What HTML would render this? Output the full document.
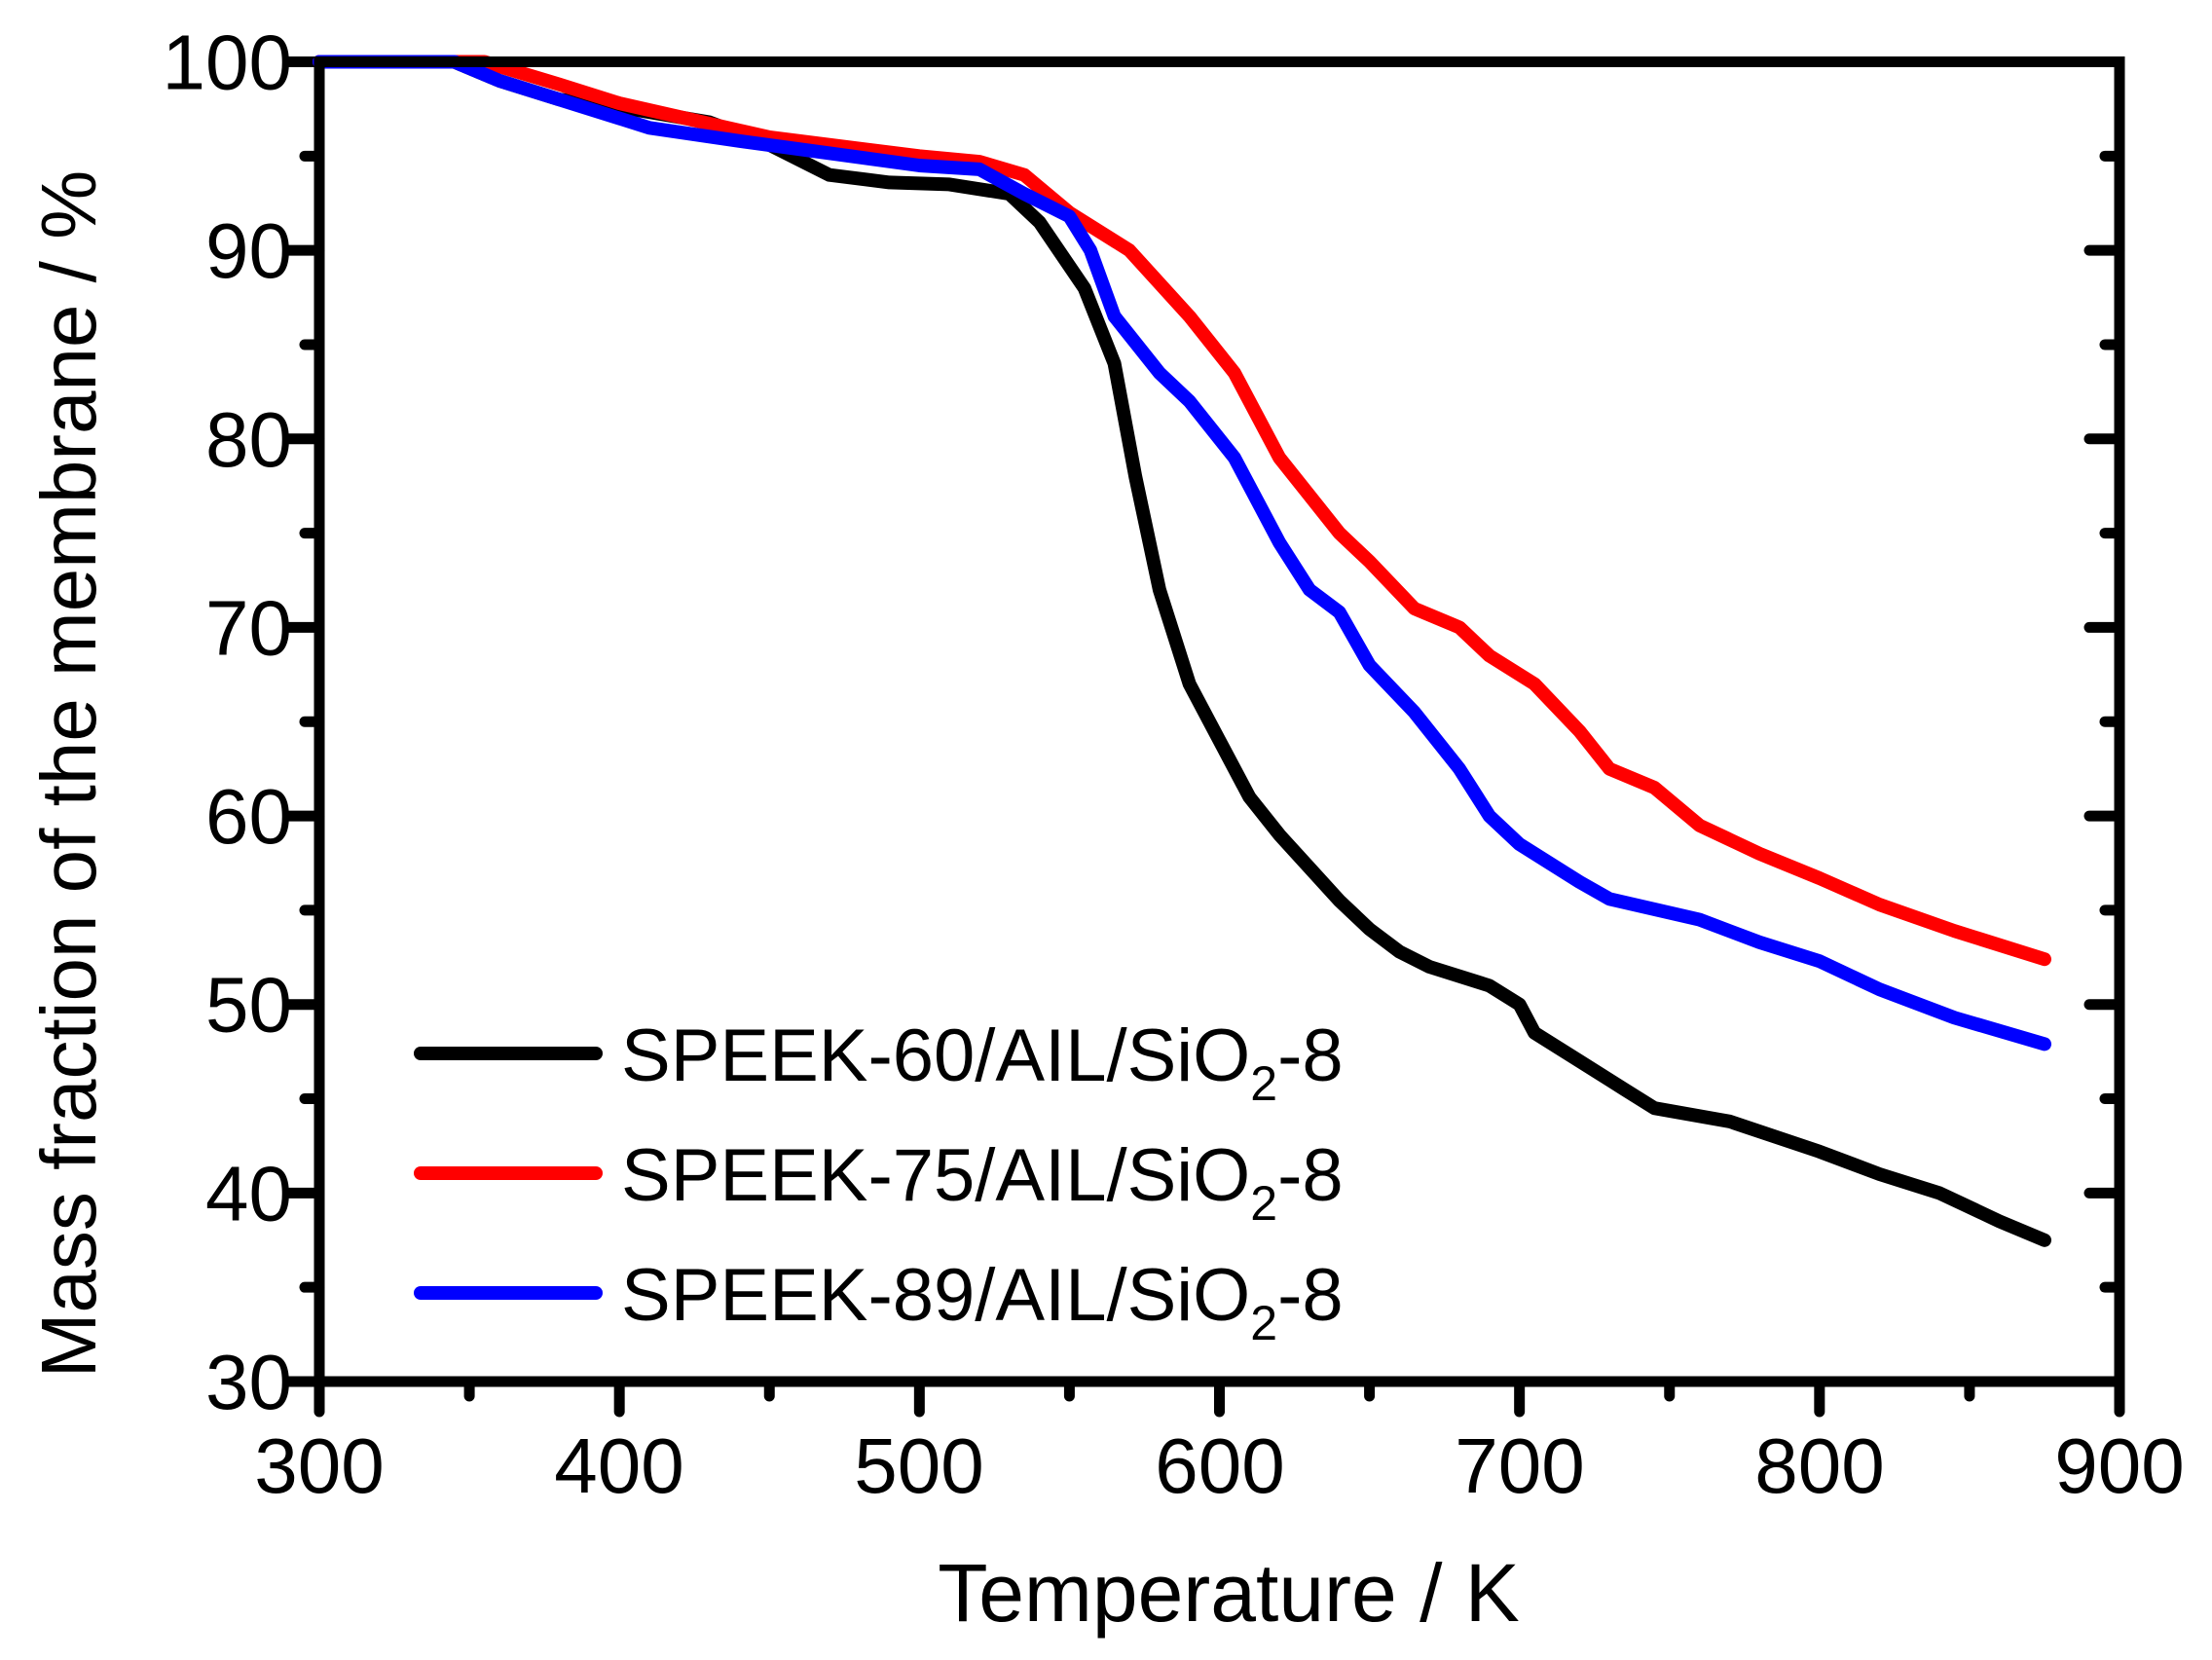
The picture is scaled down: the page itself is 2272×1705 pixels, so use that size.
<!DOCTYPE html>
<html><head><meta charset="utf-8"><style>
html,body{margin:0;padding:0;background:#fff;}
svg{display:block;}
text{font-family:"Liberation Sans",Arial,sans-serif;fill:#000;}
</style></head><body>
<svg id="s" width="2272" height="1705" viewBox="0 0 2272 1705" xmlns="http://www.w3.org/2000/svg">
<g id="ticks" stroke="#000" stroke-width="11" stroke-linecap="round"></g>
<g id="curves" fill="none" stroke-width="14" stroke-linejoin="round" stroke-linecap="round"></g>
<rect x="328" y="63.5" width="1849" height="1355.5" fill="none" stroke="#000" stroke-width="11"/>
<g font-size="80" text-anchor="middle">
<text x="328" y="1533">300</text><text x="636" y="1533">400</text><text x="944" y="1533">500</text>
<text x="1253" y="1533">600</text><text x="1561" y="1533">700</text><text x="1869" y="1533">800</text><text x="2177" y="1533">900</text>
</g>
<g font-size="80" text-anchor="end" id="ylab"></g>
<text x="1262" y="1665" font-size="84" text-anchor="middle">Temperature /  K</text>
<text transform="translate(98,795) rotate(-90)" font-size="80" text-anchor="middle">Mass fraction of the membrane / %</text>
<g stroke-width="14" stroke-linecap="round">
<line x1="432" y1="1082" x2="612" y2="1082" stroke="#000"/>
<line x1="432" y1="1205" x2="612" y2="1205" stroke="#f00"/>
<line x1="432" y1="1328" x2="612" y2="1328" stroke="#00f"/>
</g>
<g font-size="76">
<text x="638" y="1110">SPEEK-60/AIL/SiO<tspan font-size="50" dy="20">2</tspan><tspan dy="-20">-8</tspan></text>
<text x="638" y="1233">SPEEK-75/AIL/SiO<tspan font-size="50" dy="20">2</tspan><tspan dy="-20">-8</tspan></text>
<text x="638" y="1356">SPEEK-89/AIL/SiO<tspan font-size="50" dy="20">2</tspan><tspan dy="-20">-8</tspan></text>
</g>
</svg>
<script>
var NS="http://www.w3.org/2000/svg";
function X(t){return 328+(t-300)*1849/600;}
function Y(m){return 63.5+(100-m)*1355.5/70;}
var tk=document.getElementById('ticks'),yl=document.getElementById('ylab');
function ln(a,b,c,d,g){var l=document.createElementNS(NS,'line');l.setAttribute('x1',a);l.setAttribute('y1',b);l.setAttribute('x2',c);l.setAttribute('y2',d);g.appendChild(l);}
for(var t=300;t<=900;t+=50){var x=X(t),L=(t%100==0)?31:15;ln(x,1419,x,1419+L,tk);}
for(var m=30;m<=100;m+=5){var y=Y(m),L=(m%10==0)?31:15;ln(328,y,328-L,y,tk);ln(2177,y,2177-L,y,tk);
 if(m%10==0){var tx=document.createElementNS(NS,'text');tx.setAttribute('x',300);tx.setAttribute('y',y+28);tx.textContent=m;yl.appendChild(tx);}}
var D={
'#000':[[300,100],[345,100],[360,99],[380,98],[400,97.6],[430,96.8],[450,95.6],[470,94],[490,93.6],[510,93.5],[530,93],[540,91.5],[555,88],[565,84],[572,78],[580,72],[590,67],[600,64],[610,61],[620,59],[640,55.5],[650,54],[660,52.8],[670,52],[690,51],[700,50],[705,48.5],[720,47],[735,45.5],[745,44.5],[770,43.8],[800,42.2],[820,41],[840,40],[860,38.5],[875,37.5]],
'#f00':[[300,100],[355,100],[380,98.8],[400,97.8],[450,96],[500,95],[520,94.7],[535,94],[550,92],[570,90],[590,86.5],[605,83.5],[620,79],[640,75],[650,73.5],[665,71],[680,70],[690,68.5],[705,67],[720,64.5],[730,62.5],[745,61.5],[760,59.5],[780,58],[800,56.7],[820,55.3],[845,53.9],[875,52.4]],
'#00f':[[300,100],[345,100],[360,99],[390,97.5],[410,96.5],[440,95.8],[500,94.5],[520,94.3],[535,93],[550,91.8],[557,90],[565,86.5],[580,83.5],[590,82],[605,79],[620,74.5],[630,72],[640,70.8],[650,68],[665,65.5],[680,62.5],[690,60],[700,58.5],[720,56.5],[730,55.6],[760,54.5],[780,53.3],[800,52.3],[820,50.8],[845,49.3],[875,47.9]]};
var cg=document.getElementById('curves');
for(var c in D){var p=document.createElementNS(NS,'path');p.setAttribute('stroke',c);
 p.setAttribute('d',D[c].map(function(q,i){return (i?'L':'M')+X(q[0]).toFixed(1)+' '+Y(q[1]).toFixed(1);}).join(''));cg.appendChild(p);}
</script>
</body></html>
